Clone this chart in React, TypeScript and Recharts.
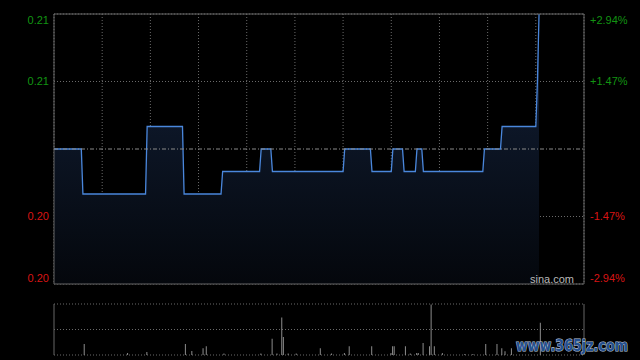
import {
  AreaChart, Area,
  BarChart, Bar,
  XAxis, YAxis,
  CartesianGrid, ReferenceLine, ReferenceArea
} from "recharts"

// price steps (minute of session -> price)
const PRICE_MIN = [0, 17, 18, 57, 58, 80, 81, 104, 105, 128, 129, 135, 136, 180, 181, 197, 198, 210, 211, 217, 218, 225, 226, 229, 230, 267, 268, 278, 279, 300, 301, 302]
const PRICE = [0.204, 0.204, 0.202, 0.202, 0.205, 0.205, 0.202, 0.202, 0.203, 0.203, 0.204, 0.204, 0.203, 0.203, 0.204, 0.204, 0.203, 0.203, 0.204, 0.204, 0.203, 0.203, 0.204, 0.204, 0.203, 0.203, 0.204, 0.204, 0.205, 0.205, 0.207, 0.210]

const VOL_MIN = [19, 46, 58, 82, 86, 93, 95, 106, 129, 136, 139, 142, 143, 146, 151, 166, 173, 181, 184, 198, 210, 211, 212, 219, 222, 226, 227, 230, 234, 235, 237, 242, 256, 261, 269, 276, 279, 281, 285, 303]
const VOL = [214000, 40000, 60000, 214000, 80000, 134000, 174000, 30000, 30000, 320000, 30000, 734000, 354000, 30000, 30000, 134000, 30000, 40000, 174000, 174000, 40000, 174000, 174000, 174000, 30000, 40000, 40000, 234000, 174000, 988000, 174000, 40000, 20000, 20000, 214000, 214000, 134000, 74000, 134000, 634000]

const PREV_CLOSE = 0.204
const PRICE_TICKS = [0.198, 0.201, 0.207, 0.210]
const PCT_TICKS = [-2.94, -1.47, 1.47, 2.94]
const TIME_TICKS = [0, 30, 60, 90, 120, 150, 180, 210, 240, 270, 300, 330]

const priceData = PRICE_MIN.map((m, i) => ({ m, price: PRICE[i] }))
const volData = VOL_MIN.map((m, i) => ({ m, vol: VOL[i] }))

const GREEN = "#129412"
const RED = "#d81414"

function shiftFor(v: number) {
  if (v === 0.21 || v === 2.94) return 6
  if (v === 0.198 || v === -2.94) return -6
  return 0
}

function PriceTick(props: any) {
  const { x, y, payload } = props
  const v = payload.value
  return (
    <text x={x} y={y + shiftFor(v)} dy="0.35em" textAnchor="end" fontSize={11}
      fontFamily="Liberation Sans, Arial" fill={v > PREV_CLOSE ? GREEN : RED}>
      {v.toFixed(2)}
    </text>
  )
}

function PctTick(props: any) {
  const { x, y, payload } = props
  const v = payload.value
  return (
    <text x={x} y={y + shiftFor(v)} dy="0.35em" textAnchor="start" fontSize={11}
      fontFamily="Liberation Sans, Arial" fill={v > 0 ? GREEN : RED}>
      {(v > 0 ? "+" : "") + v.toFixed(2) + "%"}
    </text>
  )
}

export default function App() {
  return (
    <div style={{ position: "absolute", left: 0, top: 0, width: 640, height: 360, background: "#000", overflow: "hidden" }}>
      <div style={{ position: "absolute", left: 0, top: 0 }}>
        <AreaChart width={640} height={299} data={priceData} margin={{ top: 14, right: 0, left: 0, bottom: 15 }}>
          <defs>
            <linearGradient id="pfill" x1="0" y1="0" x2="0" y2="1">
              <stop offset="0%" stopColor="#13213a" />
              <stop offset="100%" stopColor="#04070c" />
            </linearGradient>
          </defs>
          <XAxis type="number" dataKey="m" domain={[0, 330]} ticks={TIME_TICKS} hide />
          <YAxis yAxisId="price" type="number" domain={[0.198, 0.21]} ticks={PRICE_TICKS} width={54}
            axisLine={false} tickLine={false} tickSize={0} tickMargin={5} tick={<PriceTick />} allowDataOverflow />
          <YAxis yAxisId="pct" orientation="right" type="number" domain={[-2.94, 2.94]} ticks={PCT_TICKS} width={56}
            axisLine={false} tickLine={false} tickSize={0} tickMargin={6} tick={<PctTick />} allowDataOverflow />
          <CartesianGrid yAxisId="price" stroke="#6a6a6a" strokeDasharray="1 2" />
          <Area yAxisId="price" type="linear" dataKey="price" stroke="#4a87dc" strokeWidth={1.3}
            fill="url(#pfill)" fillOpacity={1} isAnimationActive={false} dot={false} activeDot={false} />
          <ReferenceLine yAxisId="price" y={PREV_CLOSE} stroke="#8a8a8a" strokeDasharray="4 2 1 2" />
          <ReferenceArea yAxisId="price" x1={0} x2={330} y1={0.198} y2={0.21} fill="none" fillOpacity={0} stroke="#666" />
        </AreaChart>
      </div>
      <div style={{ position: "absolute", left: 0, top: 290 }}>
        <BarChart width={640} height={70} data={volData} margin={{ top: 14, right: 56, left: 54, bottom: 5 }}>
          <XAxis type="number" dataKey="m" domain={[0, 330]} hide />
          <YAxis type="number" domain={[0, 1000000]} ticks={[0, 500000, 1000000]} hide />
          <CartesianGrid vertical={false} stroke="#6a6a6a" strokeDasharray="1 2" />
          <ReferenceLine x={0} stroke="#666" />
          <ReferenceLine x={330} stroke="#666" />
          <Bar dataKey="vol" fill="#8c8c8c" barSize={1} isAnimationActive={false} />
        </BarChart>
      </div>
      <svg width={640} height={360} style={{ position: "absolute", left: 0, top: 0, pointerEvents: "none" }}>
        <text x={574} y={283} textAnchor="end" fontSize={11} fontFamily="Liberation Sans, Arial" fill="#b8b8b8">sina.com</text>
        <text x={516} y={351} fontSize={16} fontWeight="bold" fontFamily="DejaVu Sans"
          textLength={112} lengthAdjust="spacingAndGlyphs"
          fill="#24508f" stroke="#b8c2d4" strokeWidth={1.2} paintOrder="stroke">www.365jz.com</text>
      </svg>
    </div>
  )
}
